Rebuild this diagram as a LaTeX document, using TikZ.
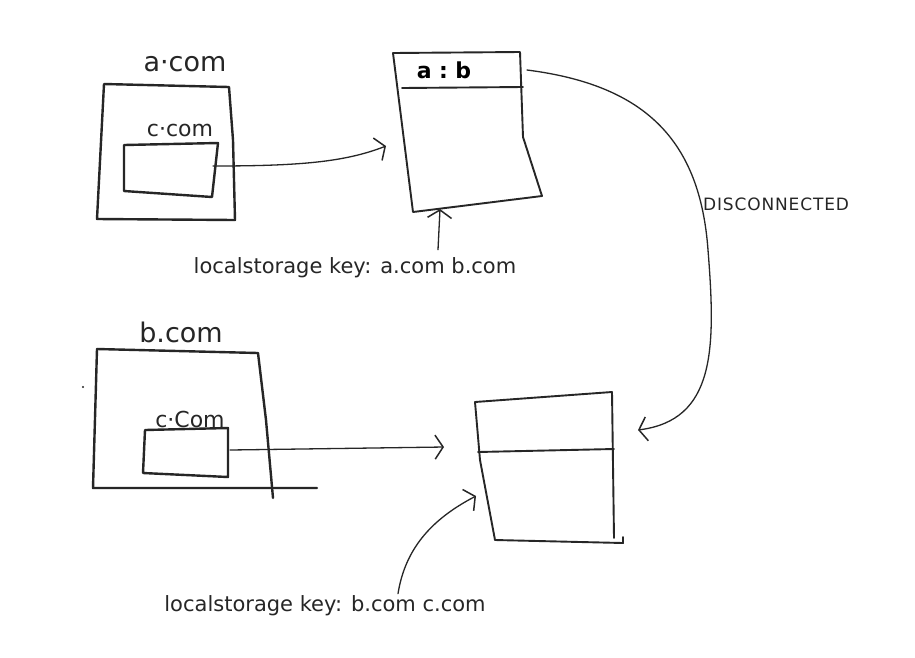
\documentclass[tikz,border=0pt]{standalone}
\usepackage{fontspec}
\setmainfont{DejaVu Sans}
\usetikzlibrary{arrows.meta}
\begin{document}
\begin{tikzpicture}[x=1pt,y=-1pt, line join=round, line cap=round,
  box/.style={draw=black!85, line width=2.4pt},
  thinbox/.style={draw=black!85, line width=1.9pt},
  conn/.style={draw=black!85, line width=1.3pt, -{Straight Barb[length=8pt,width=24pt,line width=1.5pt]}},
  lbl/.style={font=\fontsize{21}{25}\selectfont, inner sep=0pt, text=black!85},
  title/.style={font=\fontsize{27}{31}\selectfont, inner sep=0pt, text=black!85},
  small/.style={font=\fontsize{22}{26}\selectfont, inner sep=0pt, text=black!85},
  tag/.style={font=\fontsize{17}{20}\selectfont\addfontfeature{LetterSpace=5}, inner sep=0pt, text=black!85}]
\useasboundingbox[fill=white] (0,0) rectangle (915,657);

% a.com box
\draw[box] (104,84) -- (229,87) -- (233,140) -- (235,220) -- (97,219) -- cycle;
\node[title] (acom) at (185,64) {a·com};
\draw[box] (124,145) -- (218,143) -- (212,197) -- (124,191) -- cycle;
\node[small] (ccom1) at (180,130) {c·com};
\coordinate (c1out) at (213,166);

% a:b box
\draw[thinbox] (393,53) -- (520,52) -- (523,137) -- (542,196) -- (413,212) -- cycle;
\draw[thinbox] (402,88) -- (523,87);
\node[font=\bfseries\fontsize{22}{26}\selectfont, inner sep=0pt] (ab) at (444,70) {a\,\,:\,\,b};
\coordinate (abin) at (386,146);
\coordinate (abbot) at (440,209);
\coordinate (abtr) at (527,70);

% label 1
\node[lbl] (key1) at (355,268) {localstorage key: a.com b.com};

% b.com box
\draw[box] (97,349) -- (258,353) -- (266,420) -- (273,498);
\draw[box] (97,349) -- (93,488) -- (317,488);
\node[title] (bcom) at (181,332) {b.com};
\fill[black!85] (83,387) circle (1.2pt);
\draw[box] (145,430) -- (228,428) -- (228,477) -- (143,473) -- cycle;
\node[small] (ccom2) at (190,419) {c·Com};
\coordinate (c2out) at (230,450);

% bottom-right box
\draw[thinbox] (475,402) -- (612,392) -- (614,538);
\draw[thinbox] (475,402) -- (480,460) -- (495,540) -- (623,543) -- (623,537);
\draw[thinbox] (478,452) -- (614,449);
\coordinate (brin) at (444,447);
\coordinate (brleft) at (476,496);
\coordinate (brright) at (638,430);

% label 2
\node[lbl] (key2) at (325,606) {localstorage key: b.com c.com};

% connectors
\draw[conn] (c1out) .. controls (300,166) and (345,162) .. (abin);
\draw[conn] (c2out) -- (brin);
\draw[conn] ([xshift=83pt,yshift=8pt]key1.north) -- (abbot);
\draw[conn] ([xshift=73pt,yshift=2pt]key2.north) .. controls (405,550) and (430,520) .. (brleft);
\draw[conn] (abtr) .. controls (645,85) and (700,140) .. (708,250)
  .. controls (716,350) and (715,420) .. (brright);
\node[tag, anchor=west] (disc) at (703,204) {DISCONNECTED};
\end{tikzpicture}
\end{document}
